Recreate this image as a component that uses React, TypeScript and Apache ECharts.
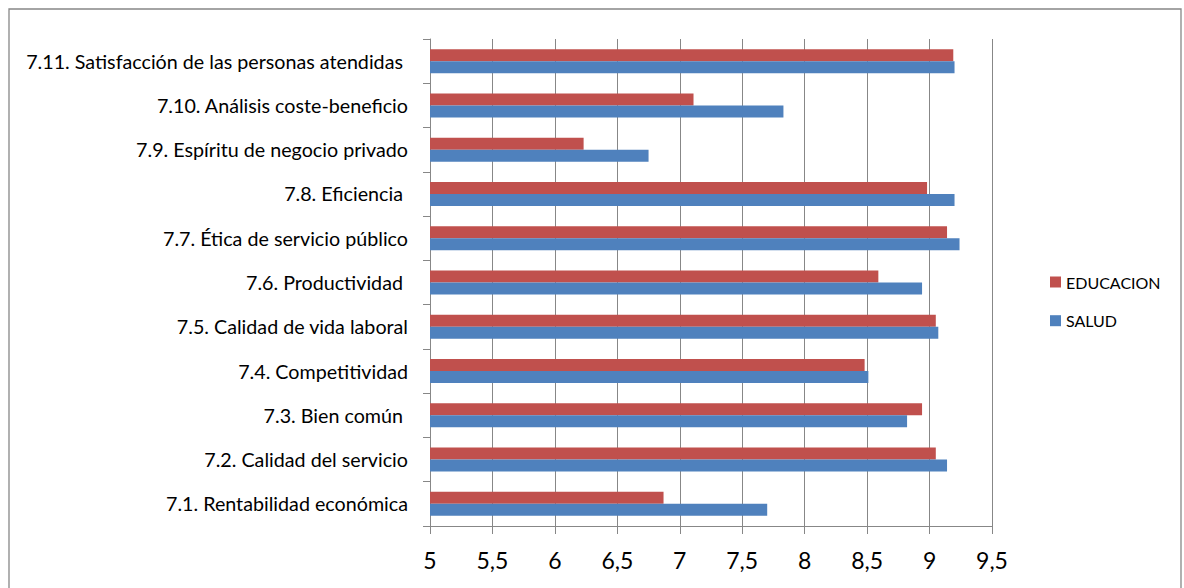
import React, { useEffect, useRef } from "react";
import * as echarts from "echarts";

const categories = [
  "7.1. Rentabilidad económica",
  "7.2. Calidad del servicio",
  "7.3. Bien común ",
  "7.4. Competitividad",
  "7.5. Calidad de vida laboral",
  "7.6. Productividad ",
  "7.7. Ética de servicio público",
  "7.8. Eficiencia ",
  "7.9. Espíritu de negocio privado",
  "7.10. Análisis coste-beneficio",
  "7.11. Satisfacción de las personas atendidas ",
];

const educacion = [6.87, 9.05, 8.94, 8.48, 9.05, 8.59, 9.14, 8.98, 6.23, 7.11, 9.19];
const salud = [7.7, 9.14, 8.82, 8.51, 9.07, 8.94, 9.24, 9.2, 6.75, 7.83, 9.2];

const legendNames = ["EDUCACION", "SALUD"];

const FONT = "Lato, 'Noto Sans', sans-serif";
const GRAY = "#878787";

export default function App() {
  const ref = useRef<HTMLDivElement>(null);

  useEffect(() => {
    if (!ref.current) return;
    const chart = echarts.init(ref.current, null, { renderer: "svg" });
    chart.setOption({
      animation: false,
      backgroundColor: "#ffffff",
      textStyle: { fontFamily: FONT },
      graphic: [
        {
          type: "rect",
          shape: { x: 9, y: 9, width: 1172, height: 600 },
          style: { fill: "none", stroke: GRAY, lineWidth: 1.3 },
          silent: true,
        },
      ],
      grid: { left: 430, right: 192, top: 39, bottom: 62, containLabel: false },
      legend: {
        data: legendNames,
        orient: "vertical",
        left: 1050,
        top: 274,
        padding: 0,
        itemWidth: 11,
        itemHeight: 11,
        itemGap: 22.7,
        icon: "rect",
        textStyle: { fontFamily: FONT, fontSize: 16, color: "#000", lineHeight: 16 },
      },
      xAxis: {
        type: "value",
        min: 5,
        max: 9.5,
        interval: 0.5,
        axisLine: { show: true, lineStyle: { color: GRAY, width: 1 } },
        axisTick: { show: true, length: 8, lineStyle: { color: GRAY, width: 1 } },
        splitLine: { show: true, lineStyle: { color: GRAY, width: 1 } },
        axisLabel: {
          fontFamily: FONT,
          fontSize: 23,
          color: "#000",
          margin: 22,
          formatter: (v: number) => String(v).replace(".", ","),
        },
      },
      yAxis: {
        type: "category",
        data: categories,
        axisLine: { show: true, lineStyle: { color: GRAY, width: 1 } },
        axisTick: { show: true, length: 7, lineStyle: { color: GRAY, width: 1 } },
        splitLine: { show: false },
        axisLabel: {
          fontFamily: FONT,
          fontSize: 19.7,
          color: "#000",
          margin: 22,
        },
      },
      series: [
        {
          name: "EDUCACION",
          type: "bar",
          data: educacion,
          barWidth: 12,
          barGap: "0%",
          itemStyle: { color: "#C0504D" },
        },
        {
          name: "SALUD",
          type: "bar",
          data: salud,
          barWidth: 12,
          barGap: "0%",
          itemStyle: { color: "#4F81BD" },
        },
      ],
    });
    return () => chart.dispose();
  }, []);

  return (
    <div
      ref={ref}
      style={{ position: "fixed", left: 0, top: 0, width: 1184, height: 588 }}
    />
  );
}
